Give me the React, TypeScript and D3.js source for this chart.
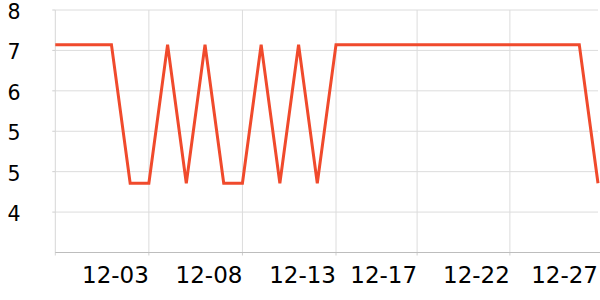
import React from "react";
import * as d3 from "d3";

const dates: string[] = [
  "2023-11-28", "2023-11-29", "2023-11-30", "2023-12-01", "2023-12-02",
  "2023-12-03", "2023-12-04", "2023-12-05", "2023-12-06", "2023-12-07",
  "2023-12-08", "2023-12-09", "2023-12-10", "2023-12-11", "2023-12-12",
  "2023-12-13", "2023-12-14", "2023-12-15", "2023-12-16", "2023-12-17",
  "2023-12-18", "2023-12-19", "2023-12-20", "2023-12-21", "2023-12-22",
  "2023-12-23", "2023-12-24", "2023-12-25", "2023-12-26", "2023-12-27",
];
const values: number[] = [
  6.9, 6.9, 6.9, 6.9, 4.5, 4.5, 6.9, 4.5, 6.9, 4.5,
  4.5, 6.9, 4.5, 6.9, 4.5, 6.9, 6.9, 6.9, 6.9, 6.9,
  6.9, 6.9, 6.9, 6.9, 6.9, 6.9, 6.9, 6.9, 6.9, 4.5,
];
const xTickTimes: string[] = [
  "2023-12-03T00:00", "2023-12-08T00:00", "2023-12-13T00:00",
  "2023-12-17T08:00", "2023-12-22T07:00", "2023-12-27T00:00",
];
const yTickValues: number[] = [7.5, 6.8, 6.1, 5.4, 4.7, 4.0, 3.3];
const yTickLabels: string[] = ["8", "7", "6", "5", "5", "4", ""];
const yDomain: [number, number] = [3.3, 7.5];

const W = 600, H = 300;
const M = { left: 55.3, right: 2, top: 10, bottom: 47.5 };

export default function App() {
  const parseDay = d3.timeParse("%Y-%m-%d");
  const parseTime = d3.timeParse("%Y-%m-%dT%H:%M");
  const fmt = d3.timeFormat("%m-%d");
  const pts = dates.map((d, i) => ({ t: parseDay(d) as Date, v: values[i] }));
  const x = d3
    .scaleTime()
    .domain(d3.extent(pts, (p) => p.t) as [Date, Date])
    .range([M.left, W - M.right]);
  const y = d3.scaleLinear().domain(yDomain).range([H - M.bottom, M.top]);
  const line = d3
    .line<{ t: Date; v: number }>()
    .x((p) => x(p.t))
    .y((p) => y(p.v));
  const xTicks = xTickTimes.map((s) => parseTime(s) as Date);
  const x0 = M.left, x1 = W - M.right;
  const yBottom = H - M.bottom;
  const font = "DejaVu Sans, sans-serif";

  return (
    <svg
      width={W}
      height={H}
      style={{ position: "absolute", left: 0, top: 0, background: "#fff" }}
    >
      {yTickValues.slice(0, -1).map((v, i) => (
        <g key={"yg" + i}>
          <line x1={x0} x2={x1} y1={y(v)} y2={y(v)} stroke="#dcdcdc" strokeWidth={1} />
          <line x1={x0 - 3} x2={x0} y1={y(v)} y2={y(v)} stroke="#cfcfcf" strokeWidth={1} />
        </g>
      ))}
      {xTicks.map((t, i) =>
        x(t) < x1 - 3 ? (
          <g key={"xg" + i}>
            <line x1={x(t)} x2={x(t)} y1={M.top} y2={yBottom} stroke="#dcdcdc" strokeWidth={1} />
            <line x1={x(t)} x2={x(t)} y1={yBottom} y2={yBottom + 3} stroke="#cfcfcf" strokeWidth={1} />
          </g>
        ) : null
      )}
      <line x1={x0} x2={x0} y1={M.top} y2={yBottom + 3} stroke="#d6d6d6" strokeWidth={1} />
      <line x1={x0} x2={x1 + 2} y1={yBottom} y2={yBottom} stroke="#bdbdbd" strokeWidth={1} />
      {yTickValues.map((v, i) => (
        <text
          key={"yl" + i}
          x={20.5}
          y={y(v)}
          dy="0.44em"
          textAnchor="end"
          fontFamily={font}
          fontSize={20.5}
          fill="#000"
        >
          {yTickLabels[i]}
        </text>
      ))}
      {xTicks.map((t, i) => (
        <text
          key={"xl" + i}
          x={Math.min(x(t), W - 1)}
          y={283.3}
          textAnchor="end"
          fontFamily={font}
          fontSize={23}
          fill="#000"
        >
          {fmt(t)}
        </text>
      ))}
      <path
        d={line(pts) || ""}
        fill="none"
        stroke="#f04a2c"
        strokeWidth={3}
        strokeLinejoin="miter"
      />
    </svg>
  );
}
